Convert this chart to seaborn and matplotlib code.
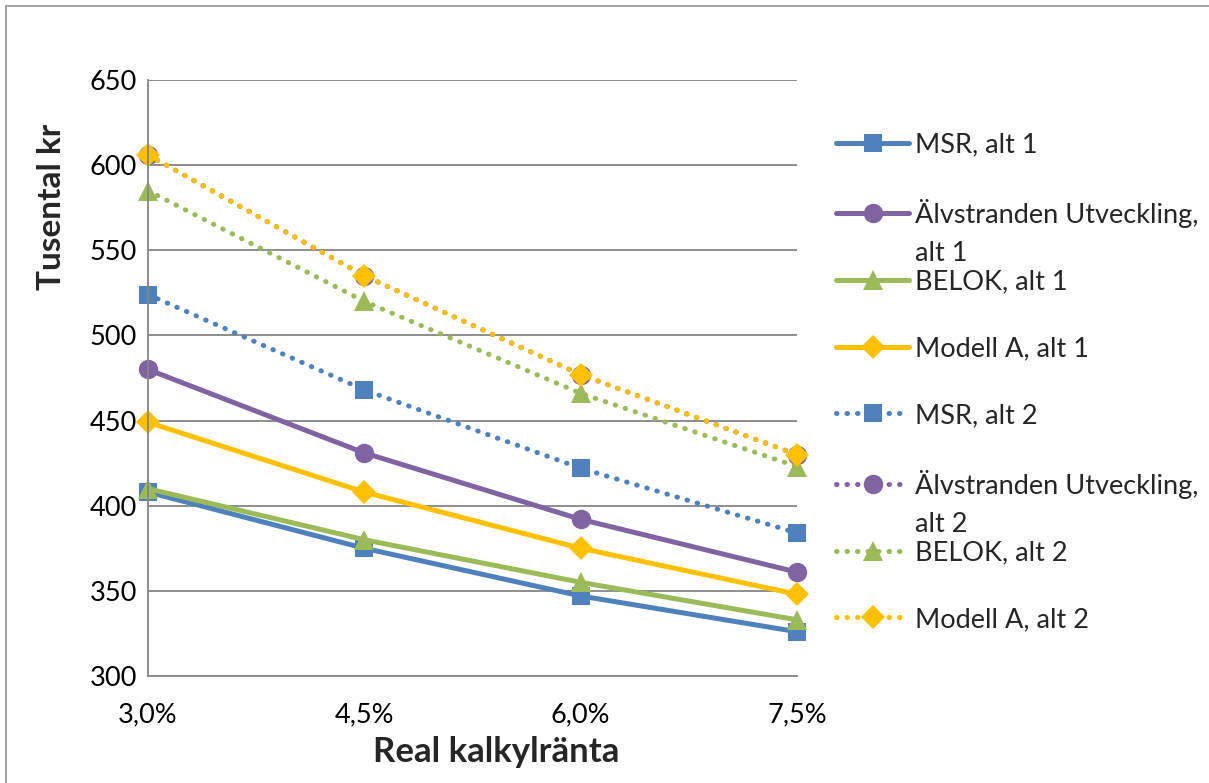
import matplotlib
matplotlib.use("Agg")
import matplotlib.pyplot as plt
from matplotlib.patches import Rectangle
import seaborn as sns
import pandas as pd

# Real discount rates and the corresponding costs (thousand SEK)
rates = ["3,0%", "4,5%", "6,0%", "7,5%"]
msr_alt1 = [408, 375, 347, 326]
alv_alt1 = [480, 431, 392, 361]
belok_alt1 = [410, 380, 355, 333]
modell_alt1 = [449, 408, 375, 348]
msr_alt2 = [524, 468, 422, 384]
alv_alt2 = [606, 535, 477, 430]
belok_alt2 = [585, 520, 466, 423]
modell_alt2 = [606, 535, 477, 430]

series_names = [
    "MSR, alt 1", "Älvstranden Utveckling,", "BELOK, alt 1", "Modell A, alt 1",
    "MSR, alt 2", "Älvstranden Utveckling,", "BELOK, alt 2", "Modell A, alt 2",
]
series_values = [msr_alt1, alv_alt1, belok_alt1, modell_alt1,
                 msr_alt2, alv_alt2, belok_alt2, modell_alt2]

BLUE, PURPLE, GREEN, GOLD = "#4F81BD", "#8064A2", "#9BBB59", "#FFC000"
colors = [BLUE, PURPLE, GREEN, GOLD] * 2
markers = ["s", "o", "^", "D"] * 2
msizes = [13, 14, 14, 12.5] * 2
dotted = (0, (0.1, 2.0))
styles = ["-"] * 4 + [dotted] * 4

FS = 19.5

sns.set_theme(style="white")
plt.rcParams["font.family"] = ["Lato", "DejaVu Sans"]

fig = plt.figure(figsize=(12.09, 7.83), dpi=100)
fig.patch.set_facecolor("white")
ax = fig.add_axes([148 / 1209, 1 - 676 / 783, (797 - 148) / 1209, (676 - 80) / 783])

xpos = list(range(len(rates)))
handles = []
for name, vals, c, m, ms, ls in zip(series_names, series_values, colors,
                                    markers, msizes, styles):
    df = pd.DataFrame({"rate": xpos, "value": vals})
    sns.lineplot(data=df, x="rate", y="value", ax=ax, color=c, marker=m,
                 markersize=ms, markeredgewidth=0, linewidth=3.6,
                 linestyle=ls, dash_capstyle="round", solid_capstyle="round",
                 clip_on=False, label=name, legend=False)
    handles.append(ax.lines[-1])

ax.set_xlim(0, 3)
ax.set_ylim(300, 650)
ax.set_xticks(xpos)
ax.set_xticklabels(rates)
ax.set_yticks(range(300, 651, 50))
ax.tick_params(axis="both", length=0, labelsize=FS, colors="black")
ax.tick_params(axis="x", pad=19)
ax.tick_params(axis="y", pad=8)

ax.grid(axis="y", color="#868686", linewidth=1.3)
ax.grid(axis="x", visible=False)
ax.set_axisbelow(True)
for side in ["top", "right"]:
    ax.spines[side].set_visible(False)
for side in ["left", "bottom"]:
    ax.spines[side].set_color("#868686")
    ax.spines[side].set_linewidth(1.3)

ax.set_xlabel("Real kalkylränta", fontsize=25, fontweight="bold", va="center")
ax.set_ylabel("Tusental kr", fontsize=24, fontweight="bold", va="center")
ax.xaxis.set_label_coords((496 - 148) / 649, (676 - 752) / 596)
ax.yaxis.set_label_coords((52 - 148) / 649, (676 - 207) / 596)

leg = ax.legend(handles=handles, labels=series_names, loc="upper left",
                bbox_to_anchor=(836 / 1209, 1 - 132 / 783),
                bbox_transform=fig.transFigure, frameon=False, fontsize=FS,
                handlelength=2.7, handletextpad=0.2, labelspacing=1.54,
                borderpad=0, borderaxespad=0)

# Second line of the wrapped Älvstranden labels
for idx, extra in [(1, "alt 1"), (5, "alt 2")]:
    ax.annotate(extra, xy=(0, 0.5), xycoords=leg.get_texts()[idx],
                xytext=(0, -29), textcoords="offset points",
                ha="left", va="center", fontsize=FS, zorder=20,
                annotation_clip=False)

# Chart frame
fig.patches.append(Rectangle((6 / 1209, -0.05), 1.2, 1 - 6 / 783 + 0.05,
                             transform=fig.transFigure, fill=False,
                             edgecolor="#9a9a9a", linewidth=1.3))

fig.savefig("out.png", dpi=100, facecolor="white")
